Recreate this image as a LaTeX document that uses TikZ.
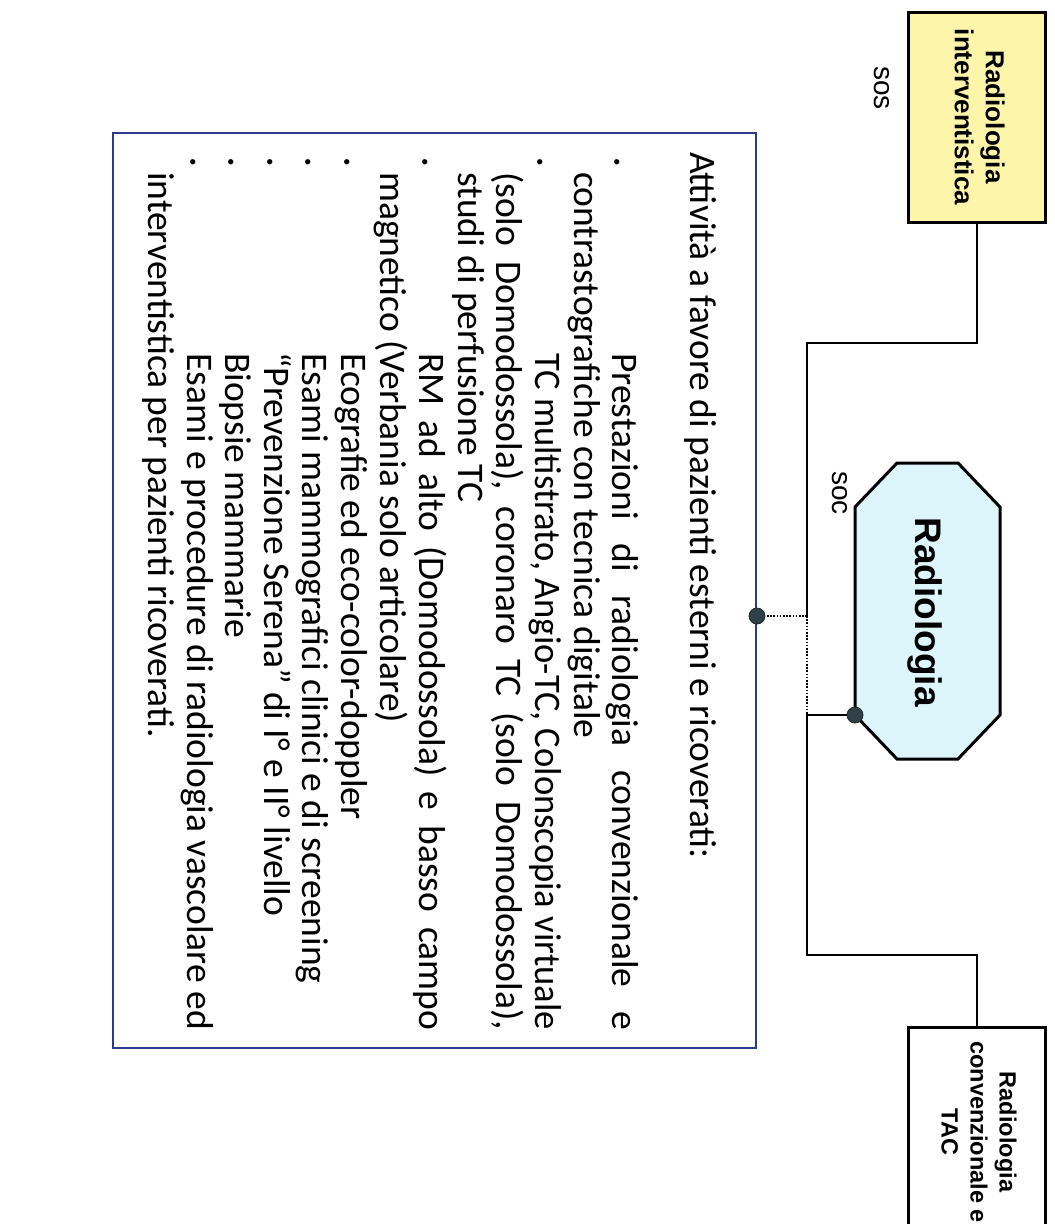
\documentclass[tikz,border=0pt]{standalone}
\usepackage{fontspec}
\usepackage{graphicx}
\setmainfont{Carlito}
\newfontfamily\arialf{Liberation Sans}
\usetikzlibrary{calc}

\definecolor{boxblue}{HTML}{2B3A93}
\definecolor{sosyellow}{HTML}{FDF6AA}
\definecolor{soccyan}{HTML}{DCF6FB}
\definecolor{dotgray}{HTML}{2F4147}

\newsavebox\jlbox
\newcommand\jline[2]{\sbox\jlbox{#2}\ifdim\wd\jlbox>#1\relax\resizebox{#1}{\height}{\usebox\jlbox}\else\hbox to #1{#2}\fi}

\begin{document}
\begin{tikzpicture}[x=1pt,y=-1pt,
  conn/.style={line width=2pt, black},
  dotconn/.style={line width=2pt, black, dash pattern=on 1.6pt off 1.6pt},
  body/.style={rotate=-90, anchor=mid west, inner sep=0pt, font=\fontsize{37.5}{40}\selectfont},
  bul/.style={rotate=-90, inner sep=0pt, font=\fontsize{15}{15}\selectfont},
  unitbox/.style={draw, line width=3pt, inner sep=0pt, minimum width=137pt, minimum height=210pt},
  lbl/.style={rotate=-90, inner sep=0pt, font=\arialf\fontsize{28}{28}\selectfont},
  jdotstyle/.style={fill=dotgray, draw=black!85, line width=0.8pt}
]
\useasboundingbox (0,0) rectangle (1055,1224);
\fill[white] (0,0) rectangle (1055,1224);

% unit boxes
\node[unitbox, fill=sosyellow, font=\arialf\bfseries\fontsize{26}{31}\selectfont] (sosbox) at (976.5,117)
  {\rotatebox{-90}{\begin{tabular}{@{}c@{}}Radiologia\\interventistica\end{tabular}}};
\node[unitbox, fill=white, font=\arialf\bfseries\fontsize{23.5}{29}\selectfont] (tacbox) at (976.5,1132)
  {\rotatebox{-90}{\begin{tabular}{@{}c@{}}Radiologia\\convenzionale e\\TAC\end{tabular}}};

% octagon
\draw[line width=3pt, fill=soccyan, line join=miter]
  (897,463) -- (958,463) -- (1000,507) -- (1000,715) -- (958,759) -- (897,759) -- (855,715) -- (855,507) -- cycle;
\node[inner sep=0pt, font=\arialf\bfseries\fontsize{37}{37}\selectfont] (soctext) at (925,612)
  {\rotatebox{-90}{Radiologia}};

% labels
\node[lbl] (soslbl) at (882,88) {sos};
\node[lbl] (soclbl) at (840,493) {soc};

% activities box
\node[draw=boxblue, line width=2pt, minimum width=643pt, minimum height=915pt, inner sep=0pt] (attbox) at (434.5,590.5) {};

% junctions
\coordinate (jtop) at (807,343);
\coordinate (jdot) at (807,616);
\coordinate (jmid) at (807,715);
\coordinate (jbot) at (807,955);
\coordinate (octv) at (855,715);
\coordinate (bdot) at (attbox.east |- jdot);

\draw[conn] (sosbox.south) |- (jtop) -- (jdot);
\draw[dotconn] (jdot) -- (jmid);
\draw[dotconn] (jdot) -- (bdot);
\draw[conn] (octv) -- (jmid) -- (jbot) -| (tacbox.north);
\filldraw[jdotstyle] (octv) circle (8pt);
\filldraw[jdotstyle] (bdot) circle (8pt);

% text
\node[body] (t0) at (693,152) {Attività a favore di pazienti esterni e ricoverati:};
\node[body] (t1) at (615,353) {\jline{677pt}{Prestazioni di radiologia convenzionale e}};
\node[body] (t2) at (577,172) {contrastografiche con tecnica digitale};
\node[body] (t3) at (538,353) {\jline{677pt}{TC multistrato, Angio-TC, Colonscopia virtuale}};
\node[body] (t4) at (499,172) {\jline{858pt}{(solo Domodossola), coronaro TC (solo Domodossola),}};
\node[body] (t5) at (461,172) {studi di perfusione TC};
\node[body] (t6) at (422,353) {\jline{677pt}{RM ad alto (Domodossola) e basso campo}};
\node[body] (t7) at (383,172) {magnetico (Verbania solo articolare)};
\node[body] (t8) at (344,353) {Ecografie ed eco-color-doppler};
\node[body] (t9) at (305,353) {Esami mammografici clinici e di screening};
\node[body] (t10) at (267,352) {“Prevenzione Serena” di I° e II° livello};
\node[body] (t11) at (228,353) {Biopsie mammarie};
\node[body] (t12) at (190,353) {\jline{677pt}{Esami e procedure di radiologia vascolare ed}};
\node[body] (t13) at (151,172) {interventistica per pazienti ricoverati.};

\foreach \bx [count=\i] in {616,539,424,346,307,269,230,192}
  \node[bul] (b\i) at (\bx,162) {•};
\end{tikzpicture}
\end{document}
